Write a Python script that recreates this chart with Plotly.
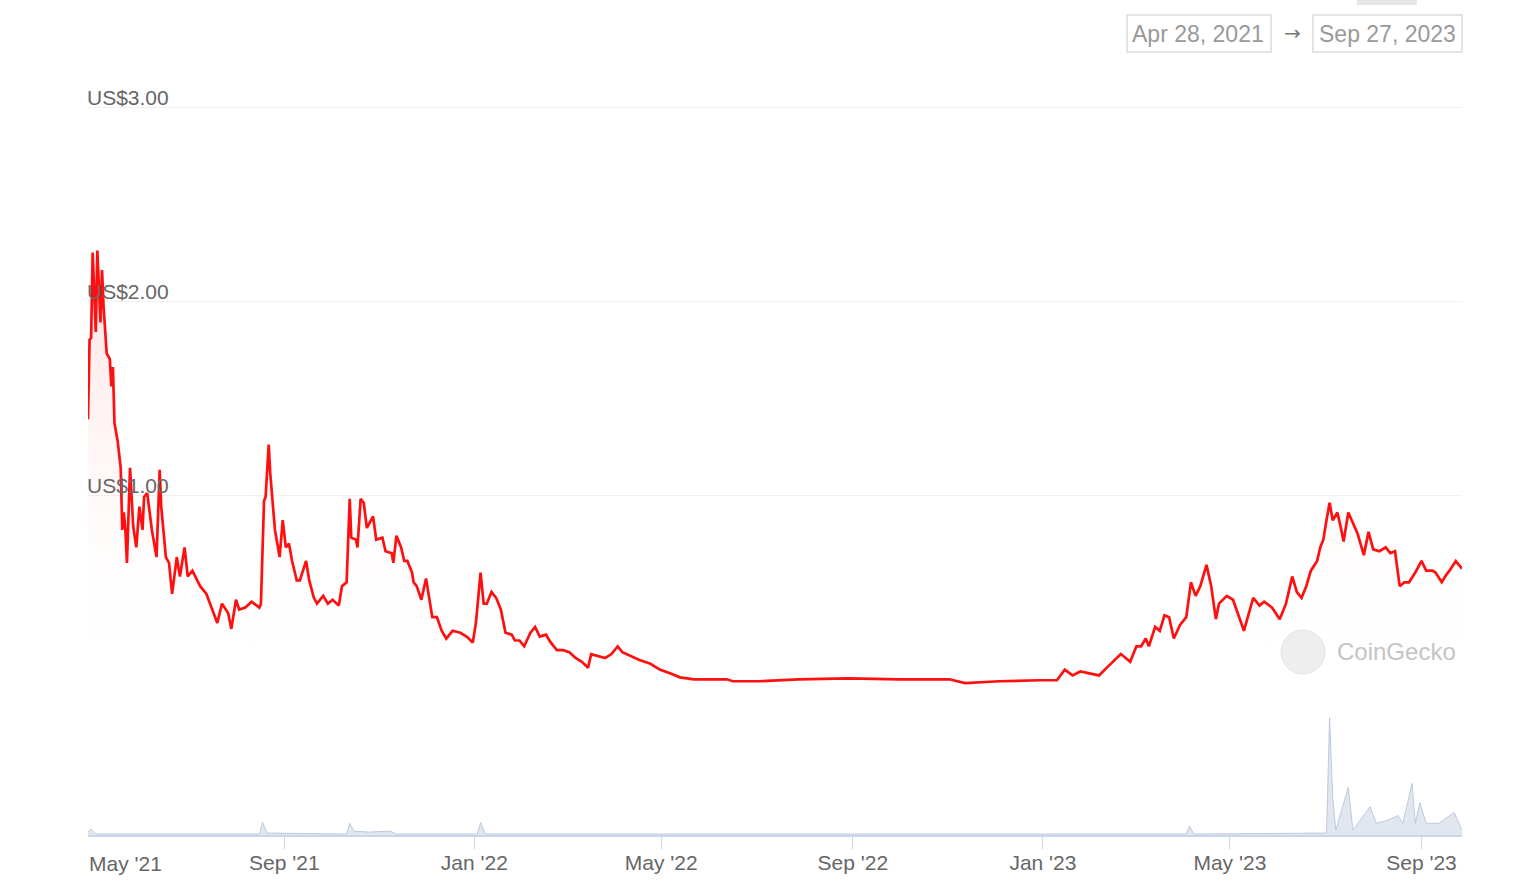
import plotly.graph_objects as go

# ---------------- data ----------------
price_dates = [
    "2021-04-28", "2021-04-29", "2021-04-30", "2021-05-01", "2021-05-03", "2021-05-04", "2021-05-06", "2021-05-07", "2021-05-08", "2021-05-10",
    "2021-05-12", "2021-05-13", "2021-05-14", "2021-05-15", "2021-05-17", "2021-05-19", "2021-05-20", "2021-05-21", "2021-05-22", "2021-05-23",
    "2021-05-25", "2021-05-27", "2021-05-29", "2021-05-31", "2021-06-02", "2021-06-03", "2021-06-05", "2021-06-07", "2021-06-08", "2021-06-11",
    "2021-06-13", "2021-06-14", "2021-06-17", "2021-06-19", "2021-06-21", "2021-06-24", "2021-06-26", "2021-06-29", "2021-07-01", "2021-07-04",
    "2021-07-09", "2021-07-13", "2021-07-17", "2021-07-20", "2021-07-23", "2021-07-27", "2021-07-29", "2021-08-01", "2021-08-03", "2021-08-07",
    "2021-08-11", "2021-08-16", "2021-08-17", "2021-08-19", "2021-08-20", "2021-08-22", "2021-08-23", "2021-08-26", "2021-08-29", "2021-08-31",
    "2021-09-02", "2021-09-04", "2021-09-06", "2021-09-09", "2021-09-11", "2021-09-15", "2021-09-17", "2021-09-20", "2021-09-22", "2021-09-26",
    "2021-09-29", "2021-10-02", "2021-10-06", "2021-10-08", "2021-10-11", "2021-10-13", "2021-10-14", "2021-10-17", "2021-10-18", "2021-10-20",
    "2021-10-22", "2021-10-24", "2021-10-28", "2021-10-30", "2021-11-03", "2021-11-05", "2021-11-09", "2021-11-10", "2021-11-12", "2021-11-15",
    "2021-11-17", "2021-11-19", "2021-11-22", "2021-11-23", "2021-11-25", "2021-11-28", "2021-12-01", "2021-12-04", "2021-12-05", "2021-12-08",
    "2021-12-11", "2021-12-14", "2021-12-18", "2021-12-23", "2021-12-27", "2021-12-31", "2022-01-02", "2022-01-05", "2022-01-07", "2022-01-09",
    "2022-01-12", "2022-01-15", "2022-01-18", "2022-01-21", "2022-01-25", "2022-01-27", "2022-01-30", "2022-02-02", "2022-02-06", "2022-02-09",
    "2022-02-12", "2022-02-16", "2022-02-19", "2022-02-23", "2022-02-27", "2022-03-03", "2022-03-07", "2022-03-11", "2022-03-15", "2022-03-17",
    "2022-03-21", "2022-03-26", "2022-03-30", "2022-04-03", "2022-04-06", "2022-04-11", "2022-04-17", "2022-04-24", "2022-04-30", "2022-05-07",
    "2022-05-13", "2022-05-22", "2022-06-01", "2022-06-12", "2022-06-16", "2022-07-03", "2022-07-28", "2022-08-29", "2022-10-01", "2022-11-02",
    "2022-11-12", "2022-12-04", "2022-12-30", "2023-01-10", "2023-01-15", "2023-01-20", "2023-01-25", "2023-01-31", "2023-02-06", "2023-02-11",
    "2023-02-15", "2023-02-20", "2023-02-26", "2023-03-02", "2023-03-05", "2023-03-08", "2023-03-10", "2023-03-14", "2023-03-17", "2023-03-20",
    "2023-03-23", "2023-03-26", "2023-03-30", "2023-04-03", "2023-04-06", "2023-04-09", "2023-04-12", "2023-04-16", "2023-04-19", "2023-04-22",
    "2023-04-24", "2023-04-29", "2023-05-03", "2023-05-07", "2023-05-10", "2023-05-16", "2023-05-20", "2023-05-23", "2023-05-28", "2023-06-02",
    "2023-06-06", "2023-06-10", "2023-06-13", "2023-06-16", "2023-06-19", "2023-06-22", "2023-06-26", "2023-06-28", "2023-06-30", "2023-07-02",
    "2023-07-04", "2023-07-06", "2023-07-09", "2023-07-11", "2023-07-13", "2023-07-16", "2023-07-18", "2023-07-22", "2023-07-26", "2023-07-29",
    "2023-08-01", "2023-08-05", "2023-08-09", "2023-08-12", "2023-08-15", "2023-08-18", "2023-08-21", "2023-08-24", "2023-08-28", "2023-09-01",
    "2023-09-04", "2023-09-08", "2023-09-10", "2023-09-14", "2023-09-17", "2023-09-19", "2023-09-23", "2023-09-27",
]
price_usd = [
    1.39, 1.80, 1.81, 2.25, 1.84, 2.26, 1.89, 2.16, 1.97, 1.73,
    1.70, 1.56, 1.66, 1.37, 1.28, 1.14, 0.82, 0.91, 0.82, 0.65,
    1.14, 0.84, 0.73, 0.94, 0.82, 0.99, 1.01, 0.86, 0.82, 0.68,
    1.13, 0.94, 0.68, 0.65, 0.49, 0.68, 0.58, 0.73, 0.58, 0.61,
    0.53, 0.49, 0.41, 0.34, 0.44, 0.39, 0.31, 0.46, 0.41, 0.42,
    0.45, 0.42, 0.44, 0.97, 0.99, 1.26, 1.11, 0.82, 0.68, 0.87,
    0.73, 0.75, 0.66, 0.56, 0.56, 0.66, 0.56, 0.47, 0.44, 0.48,
    0.44, 0.46, 0.43, 0.53, 0.55, 0.98, 0.78, 0.77, 0.73, 0.98,
    0.96, 0.83, 0.89, 0.77, 0.78, 0.71, 0.70, 0.65, 0.79, 0.73,
    0.66, 0.66, 0.60, 0.55, 0.53, 0.46, 0.57, 0.42, 0.37, 0.37,
    0.30, 0.26, 0.30, 0.29, 0.27, 0.24, 0.34, 0.60, 0.44, 0.44,
    0.50, 0.47, 0.41, 0.29, 0.28, 0.25, 0.25, 0.22, 0.29, 0.32,
    0.27, 0.28, 0.24, 0.20, 0.20, 0.19, 0.16, 0.14, 0.11, 0.18,
    0.17, 0.16, 0.18, 0.22, 0.19, 0.17, 0.15, 0.13, 0.10, 0.08,
    0.06, 0.05, 0.05, 0.05, 0.04, 0.04, 0.05, 0.055, 0.05, 0.05,
    0.03, 0.04, 0.045, 0.045, 0.10, 0.07, 0.09, 0.08, 0.07, 0.11,
    0.14, 0.18, 0.14, 0.22, 0.22, 0.26, 0.22, 0.32, 0.30, 0.38,
    0.37, 0.26, 0.33, 0.37, 0.55, 0.48, 0.53, 0.64, 0.53, 0.36,
    0.44, 0.48, 0.46, 0.37, 0.30, 0.47, 0.43, 0.45, 0.42, 0.36,
    0.44, 0.58, 0.50, 0.47, 0.53, 0.61, 0.66, 0.73, 0.77, 0.87,
    0.96, 0.87, 0.91, 0.84, 0.76, 0.91, 0.87, 0.80, 0.69, 0.81,
    0.72, 0.71, 0.73, 0.70, 0.71, 0.53, 0.55, 0.55, 0.60, 0.66,
    0.61, 0.61, 0.60, 0.55, 0.59, 0.61, 0.66, 0.62,
]

volume_dates = [
    "2021-04-28", "2021-04-30", "2021-05-03", "2021-08-16", "2021-08-18", "2021-08-21",
    "2021-10-11", "2021-10-13", "2021-10-16", "2021-10-25", "2021-11-08", "2021-11-12",
    "2022-01-03", "2022-01-05", "2022-01-08", "2023-04-03", "2023-04-05", "2023-04-08",
    "2023-07-02", "2023-07-04", "2023-07-06", "2023-07-08", "2023-07-16", "2023-07-19",
    "2023-07-30", "2023-08-03", "2023-08-10", "2023-08-17", "2023-08-20", "2023-08-26",
    "2023-08-28", "2023-08-31", "2023-09-04", "2023-09-12", "2023-09-22", "2023-09-27",
]
volume_musd = [
    0.3, 0.6, 0.1, 0.1, 1.3, 0.2,
    0.1, 1.2, 0.4, 0.3, 0.4, 0.1,
    0.1, 1.3, 0.1, 0.1, 0.9, 0.1,
    0.2, 12.0, 3.9, 0.5, 4.9, 0.5,
    2.9, 1.2, 1.5, 2.0, 1.2, 5.3,
    1.2, 3.3, 1.2, 1.2, 2.3, 0.5,
]

tick_dates = ["2021-05-01", "2021-09-01", "2022-01-01", "2022-05-01", "2022-09-01",
              "2023-01-01", "2023-05-01", "2023-09-01"]
tick_labels = ["", "Sep '21", "Jan '22", "May '22", "Sep '22", "Jan '23", "May '23", "Sep '23"]
first_tick_label = "May '21"

price_ticks = [0, 1, 2, 3]
price_tick_labels = ["US$0.00", "US$1.00", "US$2.00", "US$3.00"]

range_start_label = "Apr 28, 2021"
range_end_label = "Sep 27, 2023"

assert len(price_dates) == len(price_usd)
assert len(volume_dates) == len(volume_musd)

# ---------------- figure ----------------
FONT = "Liberation Sans, Arial, Helvetica, sans-serif"
W, H = 1513, 889
ML, MR, MT, MB = 88, 51, 78, 54
PW, PH = W - ML - MR, H - MT - MB
Y_ZERO, Y_THREE = 689, 107          # pixel rows of US$0 and US$3
PX_PER_USD = (Y_ZERO - Y_THREE) / 3


def px(xp):
    return (xp - ML) / PW


def py(yp):
    return (H - MB - yp) / PH


fig = go.Figure()

fig.add_trace(go.Scatter(
    x=volume_dates, y=volume_musd, xaxis="x", yaxis="y2",
    mode="lines", line=dict(color="rgba(170,185,210,0.7)", width=1),
    fill="tozeroy", fillcolor="rgba(190,200,220,0.45)",
    hoverinfo="skip", showlegend=False,
))

fig.add_trace(go.Scatter(
    x=price_dates, y=price_usd, xaxis="x", yaxis="y",
    mode="lines", line=dict(color="#ff1010", width=2.7),
    fill="tozeroy",
    fillgradient=dict(type="vertical",
                      colorscale=[[0, "rgba(255,255,255,0)"], [1, "rgba(255,60,60,0.15)"]]),
    showlegend=False,
))

price_top = 3 + (Y_THREE - MT) / PX_PER_USD

fig.update_layout(
    width=W, height=H,
    margin=dict(l=ML, r=MR, t=MT, b=MB),
    paper_bgcolor="white", plot_bgcolor="white",
    font=dict(family=FONT, size=21, color="#666"),
    xaxis=dict(
        type="date", range=["2021-04-28", "2023-09-27"], anchor="y2",
        tickvals=tick_dates, ticktext=tick_labels,
        showline=True, linecolor="#ccd6eb", linewidth=1.5,
        ticks="outside", ticklen=12, tickcolor="#ccd6eb", tickwidth=1,
        ticklabelstandoff=-4,
        showgrid=False, zeroline=False,
        tickfont=dict(family=FONT, size=21, color="#666"),
    ),
    yaxis=dict(
        domain=[py(Y_ZERO), 1], range=[0, price_top], anchor="x",
        tickvals=price_ticks, ticktext=price_tick_labels,
        ticklabelposition="inside top",
        ticklabelstandoff=-4, ticklabelshift=5,
        showgrid=True, gridcolor="#f1f1f1", gridwidth=1,
        zeroline=False, showline=False, ticks="",
        tickfont=dict(family=FONT, size=21, color="#666"),
    ),
    yaxis2=dict(
        domain=[0, py(700)], range=[0, 13.85], anchor="x",
        showgrid=False, zeroline=False, showticklabels=False, showline=False,
    ),
    shapes=[
        dict(type="rect", xref="paper", yref="paper",
             x0=px(1127), x1=px(1271), y0=py(52), y1=py(15),
             line=dict(color="#dcdcdc", width=1.5)),
        dict(type="rect", xref="paper", yref="paper",
             x0=px(1313), x1=px(1462), y0=py(52), y1=py(15),
             line=dict(color="#dcdcdc", width=1.5)),
        dict(type="rect", xref="paper", yref="paper",
             x0=px(1357), x1=px(1417), y0=py(5), y1=py(-2),
             line=dict(width=0), fillcolor="#e6e6e6"),
        dict(type="circle", xref="paper", yref="paper",
             x0=px(1281), x1=px(1325), y0=py(674), y1=py(630),
             line=dict(color="#e4e4e4", width=1), fillcolor="#eeeeee", layer="below"),
    ],
    annotations=[
        dict(text=range_start_label, xref="paper", yref="paper",
             x=px(1198), y=py(34), xanchor="center", yanchor="middle",
             showarrow=False, font=dict(family=FONT, size=23, color="#999")),
        dict(text="→", xref="paper", yref="paper",
             x=px(1292), y=py(33), xanchor="center", yanchor="middle",
             showarrow=False, font=dict(family="DejaVu Sans", size=20, color="#777")),
        dict(text=range_end_label, xref="paper", yref="paper",
             x=px(1387), y=py(34), xanchor="center", yanchor="middle",
             showarrow=False, font=dict(family=FONT, size=23, color="#999")),
        dict(text="CoinGecko", xref="paper", yref="paper",
             x=px(1335), y=py(651), xanchor="left", yanchor="middle",
             showarrow=False, font=dict(family=FONT, size=24, color="#c4c4c4")),
        dict(text=first_tick_label, xref="paper", yref="paper",
             x=px(87), y=py(863), xanchor="left", yanchor="middle",
             showarrow=False, font=dict(family=FONT, size=21, color="#666")),
    ],
)

fig.write_html("out.html", config={"displayModeBar": False},
               post_script="document.body.style.margin='0';")
